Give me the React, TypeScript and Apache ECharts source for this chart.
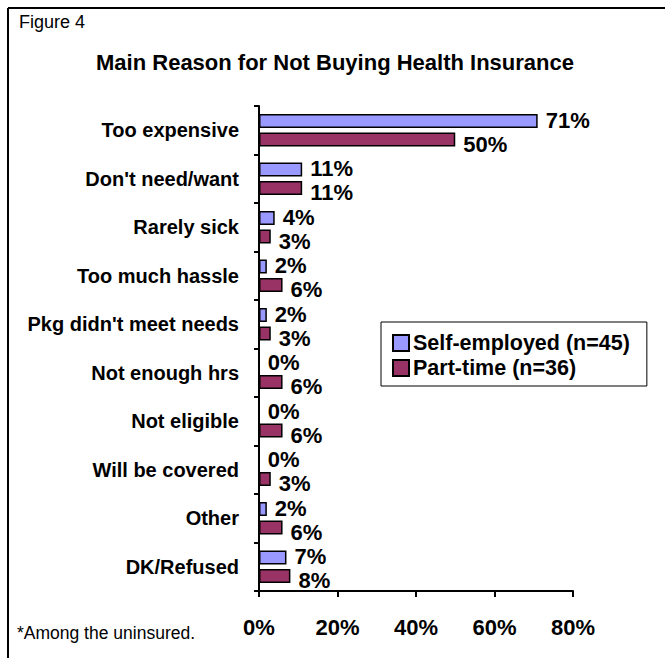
import React, { useEffect, useRef } from "react";
import * as echarts from "echarts";

const categories = [
  "Too expensive",
  "Don't need/want",
  "Rarely sick",
  "Too much hassle",
  "Pkg didn't meet needs",
  "Not enough hrs",
  "Not eligible",
  "Will be covered",
  "Other",
  "DK/Refused",
];
const selfEmployed = [71, 11, 4, 2, 2, 0, 0, 0, 2, 7];
const partTime = [50, 11, 3, 6, 3, 6, 6, 3, 6, 8];
const seriesNames = ["Self-employed (n=45)", "Part-time (n=36)"];
const xTicks = { min: 0, max: 80, interval: 20 };

const FONT = "Liberation Sans, Arial, sans-serif";

export default function App() {
  const ref = useRef<HTMLDivElement>(null);
  useEffect(() => {
    if (!ref.current) return;
    const chart = echarts.init(ref.current, undefined, { renderer: "svg" });
    const labelStyle = {
      show: true,
      position: "right" as const,
      distance: 8,
      formatter: "{c}%",
      color: "#000",
      fontFamily: FONT,
      fontWeight: "bold" as const,
      fontSize: 22,
    };
    chart.setOption({
      animation: false,
      backgroundColor: "#fff",
      textStyle: { fontFamily: FONT },
      title: [
        {
          text: "Main Reason for Not Buying Health Insurance",
          left: 330,
          textAlign: "center",
          top: 46,
          textStyle: { fontSize: 22, fontWeight: "bold", color: "#000", fontFamily: FONT },
        },
      ],
      graphic: [
        { type: "line", shape: { x1: 8, y1: 8, x2: 665, y2: 8 }, style: { stroke: "#000", lineWidth: 2 } },
        { type: "line", shape: { x1: 8, y1: 8, x2: 8, y2: 658 }, style: { stroke: "#000", lineWidth: 2 } },
        {
          type: "text",
          x: 19,
          y: 22,
          style: { text: "Figure 4", fontSize: 18, fontFamily: FONT, fill: "#000", verticalAlign: "middle" },
        },
        {
          type: "text",
          x: 17,
          y: 633,
          style: { text: "*Among the uninsured.", fontSize: 17.5, fontFamily: FONT, fill: "#000", verticalAlign: "middle" },
        },
      ],
      legend: {
        orient: "vertical",
        left: 381,
        top: 322,
        itemWidth: 16,
        itemHeight: 16,
        itemGap: 3,
        padding: [10, 17, 7, 11],
        borderColor: "#000",
        borderWidth: 1,
        icon: "rect",
        data: seriesNames,
        textStyle: { fontSize: 21.5, fontWeight: "bold", color: "#000", fontFamily: FONT, padding: [0, 0, 0, -1] },
      },
      grid: { left: 259, right: 92, top: 106, bottom: 67, containLabel: false },
      xAxis: {
        type: "value",
        min: xTicks.min,
        max: xTicks.max,
        interval: xTicks.interval,
        splitLine: { show: false },
        axisLine: { show: true, lineStyle: { color: "#000", width: 2 } },
        axisTick: { show: true, length: 6, lineStyle: { color: "#000", width: 2 } },
        axisLabel: {
          formatter: "{value}%",
          margin: 25,
          fontSize: 22,
          fontWeight: "bold",
          color: "#000",
          fontFamily: FONT,
        },
      },
      yAxis: {
        type: "category",
        data: categories,
        inverse: true,
        axisLine: { show: true, lineStyle: { color: "#000", width: 2 } },
        axisTick: { show: true, length: 5, lineStyle: { color: "#000", width: 2 } },
        axisLabel: {
          margin: 20,
          fontSize: 20,
          fontWeight: "bold",
          color: "#000",
          fontFamily: FONT,
        },
      },
      series: [
        {
          name: seriesNames[0],
          type: "bar",
          data: selfEmployed,
          barWidth: 14,
          barGap: "32%",
          itemStyle: { color: "#9999FF", borderColor: "#000", borderWidth: 1.5 },
          label: { ...labelStyle, offset: [0, -1] },
        },
        {
          name: seriesNames[1],
          type: "bar",
          data: partTime,
          barWidth: 14,
          barGap: "32%",
          itemStyle: { color: "#993366", borderColor: "#000", borderWidth: 1.5 },
          label: { ...labelStyle, offset: [0, 5] },
        },
      ],
    });
    return () => chart.dispose();
  }, []);
  return (
    <div
      ref={ref}
      style={{ position: "fixed", left: 0, top: 0, width: 665, height: 658, background: "#fff" }}
    />
  );
}
